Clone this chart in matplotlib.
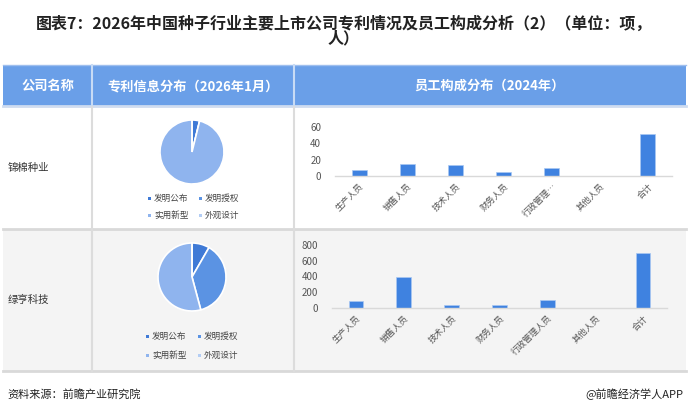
import matplotlib
matplotlib.use("Agg")
import matplotlib.pyplot as plt
from matplotlib.patches import Rectangle

plt.rcParams['font.family'] = ['Noto Sans CJK SC', 'DejaVu Sans']

W, H = 688, 415

# data
title = "图表7：2026年中国种子行业主要上市公司专利情况及员工构成分析（2）（单位：项，\n人）"
headers = ["公司名称", "专利信息分布（2026年1月）", "员工构成分布（2024年）"]
companies = ["锦棉种业", "绿亨科技"]
patent_cats = ["发明公布", "发明授权", "实用新型", "外观设计"]
patent_1 = [2, 0, 50, 0]
patent_2 = [4, 18, 26, 0]
staff_cats = ["生产人员", "销售人员", "技术人员", "财务人员", "行政管理人员", "其他人员", "合计"]
staff_labels_1 = ["生产人员", "销售人员", "技术人员", "财务人员", "行政管理…", "其他人员", "合计"]
staff_1 = [7, 15, 14, 5, 10, 0, 51]
staff_2 = [85, 390, 42, 35, 106, 0, 698]
yticks_1 = [0, 20, 40, 60]
yticks_2 = [0, 200, 400, 600, 800]
source = "资料来源：前瞻产业研究院"
brand = "@前瞻经济学人APP"

pie_colors = ["#3f7ad6", "#5b93e3", "#8fb4ee", "#b3cdf4"]
bar_color = "#3f82e0"
head_color = "#6a9fe8"


def px_box(x0, y0, x1, y1):
    return [x0 / W, 1 - y1 / H, (x1 - x0) / W, (y1 - y0) / H]


fig = plt.figure(figsize=(W / 100, H / 100), dpi=100)
bg = fig.add_axes([0, 0, 1, 1])
bg.set_xlim(0, W)
bg.set_ylim(H, 0)
bg.axis('off')

bg.text(W / 2, 31, title, ha='center', va='center', fontsize=11.5,
        fontweight='bold', color='#222222', linespacing=0.95)

# table
cols = [3, 92, 294, 686]
bg.add_patch(Rectangle((3, 65), 683, 41, facecolor=head_color, edgecolor='none'))
bg.plot([3, 686], [65, 65], color='#9fbfee', lw=1)
bg.plot([3, 686], [106.5, 106.5], color='#cfdcf0', lw=2)
bg.add_patch(Rectangle((3, 107), 683, 121, facecolor='#ffffff', edgecolor='none'))
bg.add_patch(Rectangle((3, 229), 683, 142, facecolor='#f4f4f4', edgecolor='none'))
bg.plot([3, 686], [228.5, 228.5], color='#d9d9d9', lw=2)
bg.plot([3, 686], [371, 371], color='#d9d9d9', lw=2)
for c in cols[1:3]:
    bg.plot([c, c], [65, 106], color='#c8dbf5', lw=1.5)
    bg.plot([c, c], [107, 371], color='#dcdcdc', lw=1.5)

for i, h in enumerate(headers):
    bg.text((cols[i] + cols[i + 1]) / 2, 86, h, ha='center', va='center',
            fontsize=9.5, fontweight='bold', color='white')

row_mid = [168, 300]
for i, name in enumerate(companies):
    bg.text(8, row_mid[i], name, ha='left', va='center', fontsize=7.5, color='#333333')

# pies
pies = [(patent_1, 192, 152, 32, [198, 215], [149, 200]),
        (patent_2, 192, 277, 34, [336, 355], [147, 199])]
for vals, cx, cy, r, ly, lx in pies:
    ax = fig.add_axes(px_box(cx - r, cy - r, cx + r, cy + r))
    ax.pie(vals, colors=pie_colors, startangle=90, counterclock=False,
           wedgeprops=dict(edgecolor='white', linewidth=1.2))
    ax.set_xlim(-1, 1)
    ax.set_ylim(-1, 1)
    ax.axis('off')
    for k, lab in enumerate(patent_cats):
        x = lx[k % 2]
        y = ly[k // 2]
        bg.add_patch(Rectangle((x - 1.5, y - 1.5), 3, 3, facecolor=pie_colors[k], edgecolor='none'))
        bg.text(x + 5, y, lab, ha='left', va='center', fontsize=6.2, color='#444444')

# bars
bars = [(staff_1, staff_labels_1, yticks_1, (335, 127, 672, 176)),
        (staff_2, staff_cats, yticks_2, (332, 245, 667, 308))]
for vals, labs, yt, box in bars:
    ax = fig.add_axes(px_box(*box))
    ax.patch.set_alpha(0)
    ax.bar(range(len(vals)), vals, width=0.31, color=bar_color, edgecolor='#a9c8f3', linewidth=0.5)
    ax.set_xlim(-0.5, len(vals) - 0.5)
    ax.set_ylim(0, yt[-1])
    ax.set_yticks(yt)
    ax.set_xticks(range(len(vals)))
    ax.set_xticklabels(labs, rotation=45, ha='right', rotation_mode='anchor',
                       fontsize=6.3, color='#555555')
    ax.tick_params(axis='y', length=0, pad=10, labelsize=7, labelcolor='#555555')
    ax.tick_params(axis='x', length=0, pad=4)
    for s in ['top', 'right', 'left']:
        ax.spines[s].set_visible(False)
    ax.spines['bottom'].set_color('#d9d9d9')
    ax.spines['bottom'].set_linewidth(1)

bg.text(7, 394, source, ha='left', va='center', fontsize=8, color='#222222')
bg.text(683, 394, brand, ha='right', va='center', fontsize=8, color='#222222')

fig.savefig("out.png", dpi=100)
